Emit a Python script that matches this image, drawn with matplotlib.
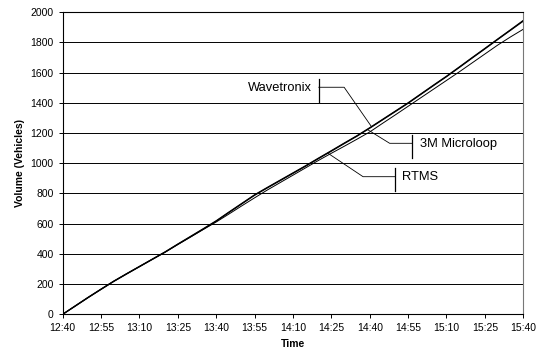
import matplotlib.pyplot as plt
import numpy as np

plt.rcParams["font.family"] = ["Liberation Sans", "DejaVu Sans"]

# minutes after 12:40, every 5 minutes
minutes = list(range(0, 181, 5))

wavetronix = [0, 57, 113, 167, 220, 269, 317, 365, 413, 465, 516, 567, 619,
              677, 734, 791, 840, 888, 936, 984, 1034, 1083, 1133, 1182, 1235,
              1290, 1345, 1400, 1459, 1518, 1576, 1637, 1699, 1760, 1822, 1883, 1945]
microloop = [0, 55, 111, 165, 218, 267, 315, 363, 411, 463, 513, 564, 616,
             674, 731, 788, 837, 885, 933, 981, 1031, 1080, 1130, 1179, 1232,
             1287, 1342, 1397, 1456, 1515, 1573, 1634, 1696, 1757, 1819, 1880, 1941]
rtms = [0, 56, 112, 166, 219, 268, 316, 364, 411, 462, 512, 562, 611,
        664, 718, 771, 823, 872, 921, 970, 1019, 1066, 1112, 1159, 1207,
        1264, 1320, 1377, 1434, 1491, 1548, 1605, 1664, 1723, 1782, 1836, 1887]

tick_minutes = list(range(0, 181, 15))
tick_labels = ["12:40", "12:55", "13:10", "13:25", "13:40", "13:55", "14:10",
               "14:25", "14:40", "14:55", "15:10", "15:25", "15:40"]


def leader(ax, label, point, elbow, bar, side):
    # excel style data label: bar beside the text, horizontal run, diagonal to the curve
    ax.plot([point[0], elbow, bar[0]], [point[1], bar[1], bar[1]],
            color="black", lw=0.6, zorder=4)
    ax.plot([bar[0], bar[0]], [bar[1] - 95, bar[1] + 55], color="black", lw=0.9, zorder=4)
    if side == "left":
        ax.text(bar[0] - 2.6, bar[1] - 5, label, ha="right", va="center", fontsize=9.3)
    else:
        ax.text(bar[0] + 3.0, bar[1] - 5, label, ha="left", va="center", fontsize=9.3)


fig = plt.figure(figsize=(5.4, 3.58), dpi=100)
ax = fig.add_axes([0.116, 0.122, 0.853, 0.844])

ax.plot(minutes, wavetronix, color="black", lw=0.9, zorder=3)
ax.plot(minutes, microloop, color="black", lw=0.9, zorder=3)
ax.plot(minutes, rtms, color="black", lw=0.7, zorder=3)

ax.set_xlim(0, 180)
ax.set_ylim(0, 2000)
ax.set_xticks(tick_minutes)
ax.set_xticklabels(tick_labels)
ax.set_yticks(np.arange(0, 2001, 200))
ax.yaxis.grid(True, color="black", lw=0.7)
ax.set_axisbelow(True)
ax.tick_params(labelsize=7.5, length=3, width=0.7, color="black")
for s in ax.spines.values():
    s.set_linewidth(0.8)
ax.spines["right"].set_color("#777777")

ax.set_xlabel("Time", fontsize=7.5, fontweight="bold")
ax.set_ylabel("Volume (Vehicles)", fontsize=7.5, fontweight="bold")

leader(ax, "Wavetronix", (120.7, 1242), 110.0, (100.1, 1503), "left")
leader(ax, "3M Microloop", (119.4, 1220), 127.8, (136.6, 1132), "right")
leader(ax, "RTMS", (103.7, 1066), 117.4, (129.8, 911), "right")

fig.savefig("out.png", dpi=100)
